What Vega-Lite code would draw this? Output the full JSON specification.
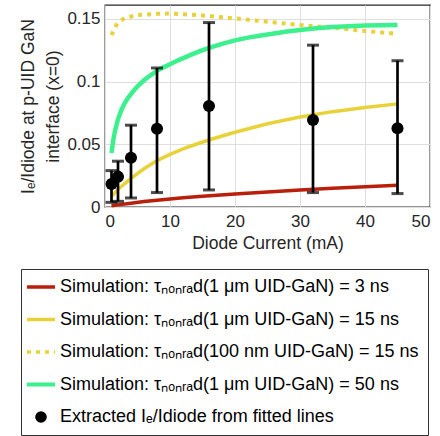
{
  "$schema": "https://vega.github.io/schema/vega-lite/v6.json",
  "width": 325,
  "height": 202,
  "autosize": {"type": "none"},
  "padding": {"left": 105, "top": 5, "right": 10, "bottom": 229},
  "config": {
    "font": "Liberation Sans",
    "view": {"stroke": "#262626", "strokeWidth": 1.3},
    "axis": {
      "labelFontSize": 17,
      "titleFontSize": 17.5,
      "labelColor": "#262626",
      "titleColor": "#262626",
      "titleFontWeight": "normal",
      "gridColor": "#dedede",
      "gridWidth": 1,
      "ticks": false,
      "domain": false
    }
  },
  "datasets": {
    "lines": [
      {"s": "a", "x": 1, "y": 0.001}, {"s": "a", "x": 2, "y": 0.0017}, {"s": "a", "x": 4, "y": 0.003},
      {"s": "a", "x": 6, "y": 0.0043}, {"s": "a", "x": 8, "y": 0.0054}, {"s": "a", "x": 10, "y": 0.0064},
      {"s": "a", "x": 12, "y": 0.0074}, {"s": "a", "x": 15, "y": 0.0085}, {"s": "a", "x": 20, "y": 0.0103},
      {"s": "a", "x": 25, "y": 0.012}, {"s": "a", "x": 30, "y": 0.0135}, {"s": "a", "x": 35, "y": 0.0149},
      {"s": "a", "x": 40, "y": 0.0162}, {"s": "a", "x": 45, "y": 0.0174},
      {"s": "b", "x": 1, "y": 0.0085}, {"s": "b", "x": 2, "y": 0.014}, {"s": "b", "x": 3, "y": 0.0185},
      {"s": "b", "x": 4, "y": 0.0228}, {"s": "b", "x": 6, "y": 0.0305}, {"s": "b", "x": 8, "y": 0.037},
      {"s": "b", "x": 10, "y": 0.042}, {"s": "b", "x": 12, "y": 0.0463}, {"s": "b", "x": 14, "y": 0.05},
      {"s": "b", "x": 16, "y": 0.0534}, {"s": "b", "x": 18, "y": 0.0566}, {"s": "b", "x": 20, "y": 0.0596},
      {"s": "b", "x": 25, "y": 0.0664}, {"s": "b", "x": 30, "y": 0.0718}, {"s": "b", "x": 35, "y": 0.076},
      {"s": "b", "x": 40, "y": 0.0793}, {"s": "b", "x": 45, "y": 0.0822},
      {"s": "c", "x": 1, "y": 0.137}, {"s": "c", "x": 1.5, "y": 0.143}, {"s": "c", "x": 2, "y": 0.147},
      {"s": "c", "x": 3, "y": 0.1505}, {"s": "c", "x": 5, "y": 0.153}, {"s": "c", "x": 8, "y": 0.154},
      {"s": "c", "x": 10, "y": 0.1542}, {"s": "c", "x": 15, "y": 0.1527}, {"s": "c", "x": 20, "y": 0.1503},
      {"s": "c", "x": 25, "y": 0.1477}, {"s": "c", "x": 30, "y": 0.145}, {"s": "c", "x": 35, "y": 0.143},
      {"s": "c", "x": 40, "y": 0.1403}, {"s": "c", "x": 45, "y": 0.138},
      {"s": "d", "x": 1, "y": 0.043}, {"s": "d", "x": 1.25, "y": 0.0525}, {"s": "d", "x": 1.5, "y": 0.0598},
      {"s": "d", "x": 2, "y": 0.07}, {"s": "d", "x": 2.5, "y": 0.0772}, {"s": "d", "x": 3, "y": 0.0825},
      {"s": "d", "x": 3.5, "y": 0.0866}, {"s": "d", "x": 4, "y": 0.09}, {"s": "d", "x": 4.5, "y": 0.0932},
      {"s": "d", "x": 5, "y": 0.0961}, {"s": "d", "x": 6, "y": 0.101}, {"s": "d", "x": 7, "y": 0.105},
      {"s": "d", "x": 8, "y": 0.1085}, {"s": "d", "x": 9, "y": 0.1113}, {"s": "d", "x": 10, "y": 0.1138},
      {"s": "d", "x": 11.5, "y": 0.1175}, {"s": "d", "x": 13, "y": 0.1208}, {"s": "d", "x": 14.5, "y": 0.124},
      {"s": "d", "x": 16, "y": 0.1268}, {"s": "d", "x": 18, "y": 0.13}, {"s": "d", "x": 20, "y": 0.1328},
      {"s": "d", "x": 22, "y": 0.135}, {"s": "d", "x": 24, "y": 0.1367}, {"s": "d", "x": 26, "y": 0.1383},
      {"s": "d", "x": 28, "y": 0.1398}, {"s": "d", "x": 30, "y": 0.1411}, {"s": "d", "x": 32.5, "y": 0.1424},
      {"s": "d", "x": 35, "y": 0.1434}, {"s": "d", "x": 37.5, "y": 0.1441}, {"s": "d", "x": 40, "y": 0.1446},
      {"s": "d", "x": 45, "y": 0.145}
    ],
    "points": [
      {"s": "e", "x": 1, "y": 0.0184, "lo": 0.0037, "hi": 0.029},
      {"s": "e", "x": 2, "y": 0.0242, "lo": 0.0045, "hi": 0.0365},
      {"s": "e", "x": 4, "y": 0.0392, "lo": 0.0072, "hi": 0.0652},
      {"s": "e", "x": 8, "y": 0.0624, "lo": 0.0115, "hi": 0.1108},
      {"s": "e", "x": 16, "y": 0.0805, "lo": 0.0136, "hi": 0.147},
      {"s": "e", "x": 32, "y": 0.0694, "lo": 0.0115, "hi": 0.129},
      {"s": "e", "x": 45, "y": 0.0627, "lo": 0.0107, "hi": 0.1166}
    ]
  },
  "encoding": {
    "x": {
      "field": "x", "type": "quantitative",
      "scale": {"domain": [0, 50], "nice": false},
      "axis": {"values": [0, 10, 20, 30, 40, 50], "title": "Diode Current (mA)", "labelPadding": 6, "titlePadding": 5}
    },
    "y": {
      "field": "y", "type": "quantitative",
      "scale": {"domain": [0, 0.161], "nice": false, "zero": false},
      "axis": {
        "values": [0, 0.05, 0.1, 0.15], "format": ".2~f",
        "title": ["Iₑ/Idiode at p-UID GaN", "interface (x=0)"],
        "titleLineHeight": 25, "titlePadding": 4, "labelPadding": 5
      }
    }
  },
  "layer": [
    {
      "data": {"name": "lines"},
      "transform": [{"filter": "datum.s == 'a' || datum.s == 'b'"}],
      "mark": {"type": "line", "strokeWidth": 3.5, "strokeCap": "butt"},
      "encoding": {
        "color": {
          "field": "s", "type": "nominal",
          "scale": {"domain": ["a", "b", "c", "d", "e"], "range": ["#b8200c", "#e8d23a", "#e8d23a", "#3df08e", "#000000"]},
          "legend": {
            "orient": "none", "legendX": -84, "legendY": 264, "direction": "vertical",
            "title": null,
            "labelFont": "Liberation Sans", "labelFontSize": 18, "labelColor": "#000000",
            "labelLimit": 1000, "labelOffset": 10,
            "symbolType": "stroke", "symbolSize": 790, "symbolStrokeWidth": 3.5,
            "symbolOffset": 2,
            "rowPadding": 14.5, "padding": 9,
            "strokeColor": "#333333", "fillColor": "#ffffff",
            "labelExpr": "datum.value == 'a' ? 'Simulation: τₙₒₙᵣₐd(1 μm UID-GaN) = 3 ns' : datum.value == 'b' ? 'Simulation: τₙₒₙᵣₐd(1 μm UID-GaN) = 15 ns' : datum.value == 'c' ? 'Simulation: τₙₒₙᵣₐd(100 nm UID-GaN) = 15 ns' : datum.value == 'd' ? 'Simulation: τₙₒₙᵣₐd(1 μm UID-GaN) = 50 ns' : 'Extracted Iₑ/Idiode from fitted lines'",
            "encode": {
              "symbols": {
                "update": {
                  "shape": {"signal": "datum.value == 'e' ? 'circle' : 'stroke'"},
                  "size": {"signal": "datum.value == 'e' ? 135 : 790"},
                  "fill": {"signal": "datum.value == 'e' ? '#000000' : 'transparent'"},
                  "strokeWidth": {"signal": "datum.value == 'e' ? 0 : (datum.value == 'd' ? 4 : 3.5)"},
                  "strokeDash": {"signal": "datum.value == 'c' ? [4, 5] : [1, 0]"}
                }
              }
            }
          }
        }
      }
    },
    {
      "data": {"name": "lines"},
      "transform": [{"filter": "datum.s == 'c'"}],
      "mark": {"type": "line", "strokeWidth": 4, "strokeDash": [4, 5], "strokeCap": "butt"},
      "encoding": {
        "color": {"field": "s", "type": "nominal"}
      }
    },
    {
      "data": {"name": "lines"},
      "transform": [{"filter": "datum.s == 'd'"}],
      "mark": {"type": "line", "strokeWidth": 4.5, "strokeCap": "butt"},
      "encoding": {
        "color": {"field": "s", "type": "nominal"}
      }
    },
    {
      "data": {"name": "points"},
      "mark": {"type": "errorbar", "color": "#000000", "thickness": 2.7, "ticks": {"size": 12, "thickness": 3, "color": "#000000"}},
      "encoding": {
        "y": {"field": "lo", "type": "quantitative"},
        "y2": {"field": "hi"}
      }
    },
    {
      "data": {"name": "points"},
      "mark": {"type": "point", "filled": true, "size": 145, "opacity": 1, "color": "#000000"}
    }
  ]
}
